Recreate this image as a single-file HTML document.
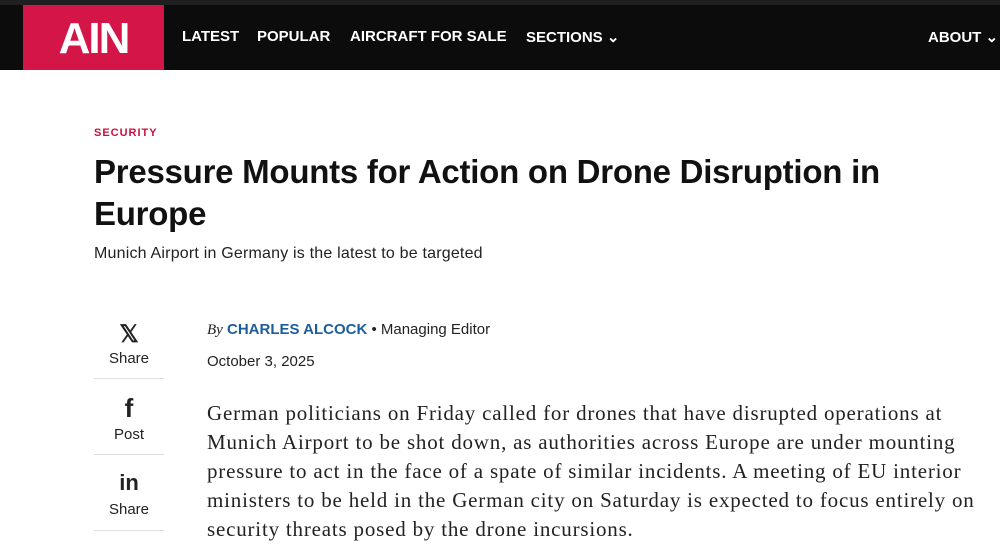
<!DOCTYPE html>
<html><head><meta charset="utf-8"><style>
*{margin:0;padding:0;box-sizing:border-box}
body{width:1000px;height:548px;overflow:hidden;background:#fff;font-family:"Liberation Sans",sans-serif;position:relative;color:#111}
.top{position:absolute;left:0;top:0;width:1000px;height:5px;background:#1f1f1f}
.nav{position:absolute;left:0;top:5px;width:1000px;height:65px;background:#0c0c0c}
.logo{position:absolute;left:23px;top:5px;width:141px;height:65px;background:#d41548;color:#fff;font-weight:bold;font-size:44px;line-height:68px;text-align:center;letter-spacing:-2px}
.ni{position:absolute;top:28px;color:#fff;font-weight:bold;font-size:15px;white-space:nowrap}
.a{position:absolute;white-space:nowrap}
.side{position:absolute;left:94px;width:70px;text-align:center;font-size:15px;color:#222}
.hr{position:absolute;left:94px;width:70px;height:1px;background:#ddd}
.body{position:absolute;left:207px;top:399px;font-family:"Liberation Serif",serif;font-size:21px;line-height:29px;color:#222;white-space:nowrap;letter-spacing:0.8px}
</style></head><body>
<div class="top"></div><div class="nav"></div>
<div class="logo">AIN</div>
<div class="ni" style="left:182px">LATEST</div>
<div class="ni" style="left:257px">POPULAR</div>
<div class="ni" style="left:350px">AIRCRAFT FOR SALE</div>
<div class="ni" style="left:526px">SECTIONS &#8964;</div>
<div class="ni" style="left:928px">ABOUT &#8964;</div>
<div class="a" style="left:94px;top:127px;font-size:11px;font-weight:bold;color:#c8103e;letter-spacing:1px">SECURITY</div>
<div class="a" style="left:94px;top:151px;font-size:33px;font-weight:bold;line-height:42px;letter-spacing:-0.25px">Pressure Mounts for Action on Drone Disruption in<br>Europe</div>
<div class="a" style="left:94px;top:245px;font-size:16px;color:#222;letter-spacing:0.2px">Munich Airport in Germany is the latest to be targeted</div>
<div class="side" style="top:320px;font-size:24px;font-weight:bold">𝕏</div>
<div class="side" style="top:350px">Share</div>
<div class="hr" style="top:378px"></div>
<div class="side" style="top:393px;font-size:26px;font-weight:bold">f</div>
<div class="side" style="top:426px">Post</div>
<div class="hr" style="top:454px"></div>
<div class="side" style="top:470px;font-size:22px;font-weight:bold">in</div>
<div class="side" style="top:501px">Share</div>
<div class="hr" style="top:530px"></div>
<div class="a" style="left:207px;top:321px;font-size:15px;color:#222"><i style="font-family:'Liberation Serif',serif">By</i> <b style="color:#1d5d9c">CHARLES ALCOCK</b> • Managing Editor</div>
<div class="a" style="left:207px;top:353px;font-size:15px;color:#222">October 3, 2025</div>
<div class="body">German politicians on Friday called for drones that have disrupted operations at<br>Munich Airport to be shot down, as authorities across Europe are under mounting<br>pressure to act in the face of a spate of similar incidents. A meeting of EU interior<br>ministers to be held in the German city on Saturday is expected to focus entirely on<br>security threats posed by the drone incursions.</div>
</body></html>
